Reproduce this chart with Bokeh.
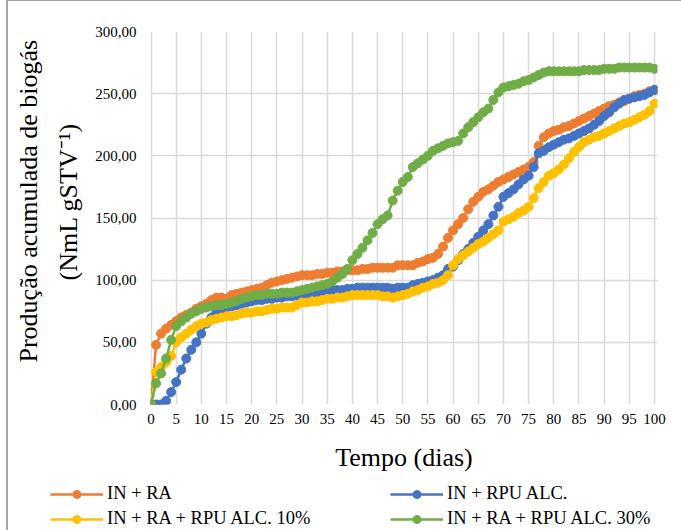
from bokeh.plotting import figure
from bokeh.layouts import column
from bokeh.models import FixedTicker, Legend, LegendItem, Title
from bokeh.embed import file_html
from bokeh.resources import INLINE

# Cumulative biogas production per day (NmL gSTV-1)
days = list(range(101))

in_ra = [0, 48, 57, 61, 64, 67, 70, 72, 74, 77, 79, 81, 84, 86, 86, 85, 88, 89, 90, 91,
         92, 93, 94, 96, 98, 99, 100, 101, 102, 103, 104, 104, 104, 105, 105, 106, 106, 107, 107, 108,
         108, 108, 109, 109, 110, 110, 110, 110, 110, 112, 112, 112, 112, 114, 115, 117, 118, 121, 127, 134,
         140, 145, 150, 157, 163, 167, 171, 173, 176, 179, 181, 183, 185, 187, 189, 191, 195, 208, 215, 218,
         220, 221, 223, 224, 226, 228, 230, 232, 234, 236, 238, 240, 241, 243, 244, 246, 248, 249, 250, 252,
         253]

in_rpu = [0, 0, 0, 3, 10, 18, 28, 37, 44, 50, 57, 65, 70, 74, 76, 78, 79, 80, 81, 82,
          83, 84, 84, 85, 85, 86, 86, 87, 87, 88, 89, 89, 90, 90, 91, 91, 92, 92, 92, 93,
          93, 94, 94, 94, 94, 94, 94, 94, 93, 94, 94, 94, 96, 97, 98, 99, 100, 102, 104, 109,
          111, 116, 121, 125, 130, 135, 140, 145, 152, 159, 167, 170, 173, 177, 181, 184, 191, 202, 204, 207,
          209, 211, 213, 214, 216, 218, 220, 222, 225, 228, 232, 235, 239, 242, 245, 246, 247, 248, 249, 251,
          253]

in_ra_rpu10 = [0, 26, 30, 34, 39, 50, 54, 57, 60, 63, 65, 66, 68, 69, 70, 71, 71, 72, 73, 74,
               74, 75, 75, 76, 77, 77, 78, 78, 78, 80, 82, 82, 83, 83, 84, 85, 85, 86, 86, 87,
               88, 88, 88, 88, 88, 88, 87, 87, 86, 87, 88, 89, 91, 92, 94, 95, 97, 98, 100, 104,
               112, 117, 120, 123, 126, 129, 131, 134, 137, 140, 147, 149, 151, 154, 156, 159, 166, 174, 179, 184,
               186, 189, 193, 198, 203, 207, 211, 213, 215, 216, 218, 220, 222, 224, 226, 227, 229, 231, 233, 236,
               242]

in_ra_rpu30 = [0, 17, 25, 37, 52, 63, 67, 70, 73, 75, 77, 78, 79, 80, 80, 81, 82, 83, 85, 86,
               87, 88, 88, 89, 89, 89, 90, 90, 90, 91, 92, 93, 94, 95, 96, 97, 99, 102, 105, 109,
               116, 121, 126, 132, 138, 145, 149, 152, 164, 172, 179, 183, 191, 194, 197, 200, 204, 206, 208, 210,
               211, 212, 218, 223, 227, 231, 235, 238, 245, 251, 255, 256, 257, 258, 260, 261, 263, 265, 267, 268,
               268, 268, 268, 268, 268, 268, 269, 269, 269, 269, 270, 270, 270, 271, 271, 271, 271, 271, 271, 271,
               270]

series_names = ["IN + RA", "IN + RPU ALC.", "IN + RA + RPU ALC. 10%", "IN + RA + RPU ALC. 30%"]
series_values = [in_ra, in_rpu, in_ra_rpu10, in_ra_rpu30]
series_colors = ["#ED7D31", "#4472C4", "#FFC000", "#70AD47"]

x_ticks = list(range(0, 101, 5))
y_ticks = [0, 50, 100, 150, 200, 250, 300]
y_tick_labels = ["0,00", "50,00", "100,00", "150,00", "200,00", "250,00", "300,00"]

x_title = "Tempo (dias)"
y_title_lines = ["Produção acumulada de biogás", "(NmL gSTV\u207b\u00b9)"]

SERIF = "Liberation Serif"

p = figure(width=673, height=478, x_range=(-0.1, 100.6), y_range=(0, 300),
           output_backend="svg", toolbar_location=None,
           min_border_left=142, min_border_right=24, min_border_top=30, min_border_bottom=75)
p.outline_line_color = None
p.background_fill_color = "white"
p.border_fill_color = "white"

# grid
p.xgrid.ticker = FixedTicker(ticks=x_ticks)
p.ygrid.ticker = FixedTicker(ticks=y_ticks)
for g in (p.xgrid, p.ygrid):
    g.grid_line_color = "#d9d9d9"
    g.grid_line_width = 1.5

# axes
p.xaxis.ticker = FixedTicker(ticks=x_ticks)
p.yaxis.ticker = FixedTicker(ticks=y_ticks)
p.yaxis.major_label_overrides = {t: s for t, s in zip(y_ticks, y_tick_labels)}
for ax in (p.xaxis, p.yaxis):
    ax.axis_line_color = None
    ax.major_tick_line_color = None
    ax.minor_tick_line_color = None
    ax.major_tick_out = 0
    ax.major_tick_in = 0
    ax.major_label_text_font = SERIF
    ax.major_label_text_font_size = "15px"
    ax.major_label_text_color = "#000000"
    ax.axis_label_text_font = SERIF
    ax.axis_label_text_font_style = "normal"
    ax.axis_label_text_font_size = "26px"
    ax.axis_label_text_color = "#000000"
p.xaxis.major_label_standoff = 9
p.yaxis.major_label_standoff = 14
p.xaxis.axis_label = x_title
p.xaxis.axis_label_standoff = 16

# two-line vertical title, inner line first (closest to the axis)
for text, offset, standoff in [(y_title_lines[1], 124, 19), (y_title_lines[0], 42, 0)]:
    p.add_layout(Title(text=text, align="left", offset=offset, standoff=standoff,
                       text_font=SERIF, text_font_size="26px", text_font_style="normal",
                       text_color="#000000"), "left")

lines, marks = [], []
for vals, col in zip(series_values, series_colors):
    lines.append(p.line(days, vals, line_color=col, line_width=2.5))
    marks.append(p.scatter(days, vals, size=9, fill_color=col, line_color=col))

# legend strip underneath the chart; its renderers carry only NaN so they add no visible marks
key = figure(width=673, height=51, x_range=(0, 1), y_range=(0, 1),
             output_backend="svg", toolbar_location=None,
             x_axis_location=None, y_axis_location=None, min_border=0)
key.frame_align = False
key.grid.visible = False
key.outline_line_color = None
key.background_fill_color = "white"
key.border_fill_color = "white"
nan = float("nan")
items = []
for name, col in zip(series_names, series_colors):
    kl = key.line([nan], [nan], line_color=col, line_width=2.5)
    ks = key.scatter([nan], [nan], size=9, fill_color=col, line_color=col)
    items.append(LegendItem(label=name, renderers=[kl, ks]))

legend = Legend(items=items, location=(42, 1), orientation="horizontal", ncols=2,
                label_text_font=SERIF, label_text_font_size="18.5px", label_text_color="#000000",
                glyph_width=53, glyph_height=20, label_standoff=4, label_width=279,
                label_height=20, spacing=4, padding=0, margin=0,
                border_line_color=None, background_fill_alpha=0)
key.add_layout(legend, "center")

page = column(p, key, spacing=0)
page.styles = {"border-top": "1px solid #a6a6a6", "border-left": "2px solid #a6a6a6",
               "margin-left": "6px"}

open("out.html", "w").write(file_html(page, INLINE))
